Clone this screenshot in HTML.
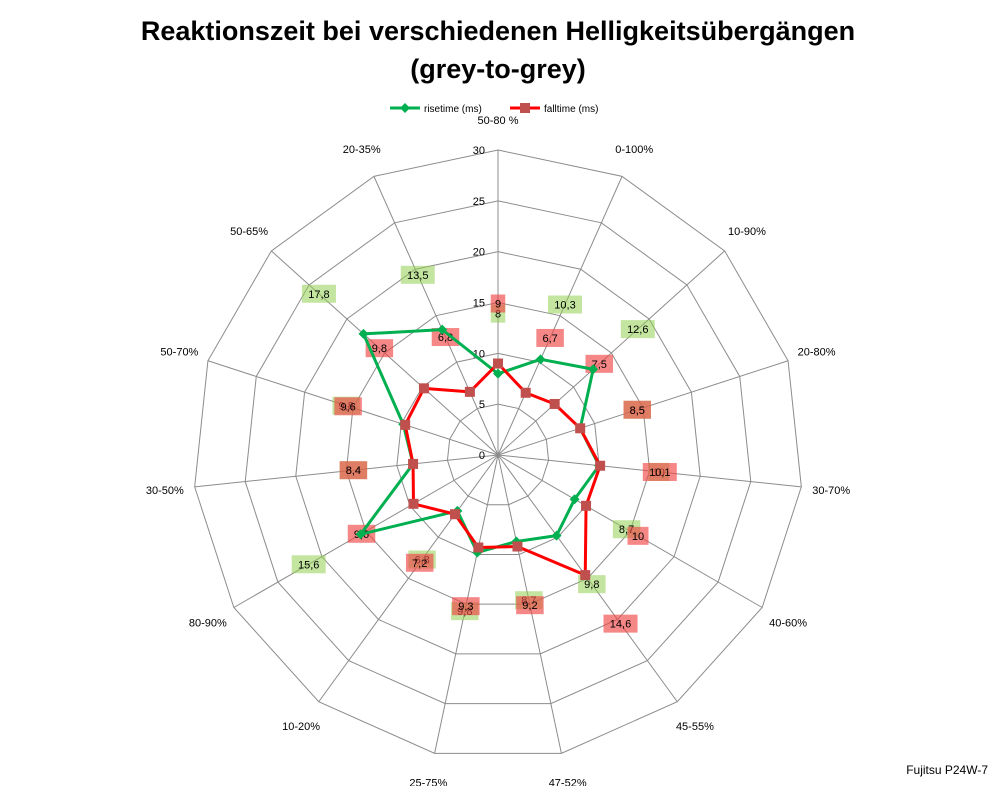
<!DOCTYPE html>
<html><head><meta charset="utf-8">
<style>
body{margin:0;background:#fff;font-family:"Liberation Sans",sans-serif;}
#wrap{position:relative;width:998px;height:786px;overflow:hidden;}
</style></head>
<body>
<div id="wrap">
<svg id="chart" width="998" height="786"></svg>
</div>
<script>
const categories=["50-80 %","0-100%","10-90%","20-80%","30-70%","40-60%","45-55%","47-52%","25-75%","10-20%","80-90%","30-50%","50-70%","50-65%","20-35%"];
const riseValues=[8,10.3,12.6,8.5,10,8.7,9.8,8.7,9.8,6.8,15.6,8.4,9.8,17.8,13.5];
const fallValues=[9,6.7,7.5,8.5,10.1,10,14.6,9.2,9.3,7.2,9.6,8.4,9.6,9.8,6.8];
const riseLabels=["8","10,3","12,6","8,5","10","8,7","9,8","8,7","9,8","6,8","15,6","8,4","9,8","17,8","13,5"];
const fallLabels=["9","6,7","7,5","8,5","10,1","10","14,6","9,2","9,3","7,2","9,6","8,4","9,6","9,8","6,8"];
const ticks=[0,5,10,15,20,25,30];

const NS="http://www.w3.org/2000/svg";
const svg=document.getElementById('chart');
const cx=498,cy=455,R=305,maxV=30;
function mk(t,a,p){const e=document.createElementNS(NS,t);for(const k in a)e.setAttribute(k,a[k]);(p||svg).appendChild(e);return e;}
function ang(i){return (i*360/categories.length)*Math.PI/180;}
function pt(i,v){const r=v/maxV*R;return [cx+r*Math.sin(ang(i)),cy-r*Math.cos(ang(i))];}
function ptR(i,r){return [cx+r*Math.sin(ang(i)),cy-r*Math.cos(ang(i))];}

// title
let t=mk('text',{x:498,y:40,'text-anchor':'middle','font-size':27,'font-weight':'bold',fill:'#000'});

t.textContent='Reaktionszeit bei verschiedenen Helligkeitsübergängen';
t=mk('text',{x:498,y:78,'text-anchor':'middle','font-size':27,'font-weight':'bold',fill:'#000'});

t.textContent='(grey-to-grey)';

// grid
const grid=mk('g',{});

ticks.slice(1).forEach(v=>{
  const pts=categories.map((c,i)=>pt(i,v).join(',')).join(' ');
  const p=mk('polygon',{points:pts,fill:'none',stroke:'#8c8c8c','stroke-width':1},grid);
  
});
categories.forEach((c,i)=>{
  const [x,y]=pt(i,maxV);
  const l=mk('line',{x1:cx,y1:cy,x2:x,y2:y,stroke:'#8c8c8c','stroke-width':1},grid);
  
  const [lx,ly]=ptR(i,R+30);
  const tx=mk('text',{x:lx,y:ly+4,'text-anchor':'middle','font-size':11,fill:'#000'});
  
  tx.textContent=c;
});
ticks.forEach(v=>{
  const [x,y]=pt(0,v);
  const tx=mk('text',{x:x-13,y:y+4,'text-anchor':'end','font-size':11,fill:'#000'});
  
  tx.textContent=v;
});

// labels
function labels(vals,labs,fill,name){
  const g=mk('g',{});
  
  vals.forEach((v,i)=>{
    const r=v/maxV*R+60;const [x,y]=ptR(i,r);
    const w=labs[i].length*6.5+8;
    const b=mk('rect',{x:x-w/2,y:y-9,width:w,height:18,fill:fill},g);
    
    const tx=mk('text',{x:x,y:y+4,'text-anchor':'middle','font-size':11,fill:'#000'},g);
    
    tx.textContent=labs[i];
  });
}
labels(riseValues,riseLabels,'rgba(146,208,80,0.55)','rise-labels');
labels(fallValues,fallLabels,'rgba(240,70,70,0.65)','fall-labels');

// series
function series(vals,color,mcolor,marker,name){
  const g=mk('g',{});
  
  const pts=vals.map((v,i)=>pt(i,v));
  const pl=mk('polygon',{points:pts.map(p=>p.join(',')).join(' '),fill:'none',stroke:color,'stroke-width':3,'stroke-linejoin':'round'},g);
  
  pts.forEach(([x,y])=>{
    let m;
    if(marker==='diamond') m=mk('polygon',{points:`${x},${y-5} ${x+5},${y} ${x},${y+5} ${x-5},${y}`,fill:mcolor},g);
    else m=mk('rect',{x:x-5,y:y-5,width:10,height:10,fill:mcolor},g);
    
  });
}
series(riseValues,'#00b050','#00b050','diamond','risetime-series');
series(fallValues,'#ff0000','#c0504d','square','falltime-series');

// legend
const lg=mk('g',{});

let e=mk('line',{x1:390,y1:108,x2:420,y2:108,stroke:'#00b050','stroke-width':3},lg);

e=mk('polygon',{points:'405,103 410,108 405,113 400,108',fill:'#00b050'},lg);

e=mk('text',{x:424,y:112,'font-size':10,fill:'#000'},lg);

e.textContent='risetime (ms)';
e=mk('line',{x1:510,y1:108,x2:540,y2:108,stroke:'#ff0000','stroke-width':3},lg);

e=mk('rect',{x:520,y:103,width:10,height:10,fill:'#c0504d'},lg);

e=mk('text',{x:544,y:112,'font-size':10,fill:'#000'},lg);

e.textContent='falltime (ms)';

e=mk('text',{x:988,y:774,'text-anchor':'end','font-size':12,fill:'#000'});

e.textContent='Fujitsu P24W-7';
</script>
</body></html>
